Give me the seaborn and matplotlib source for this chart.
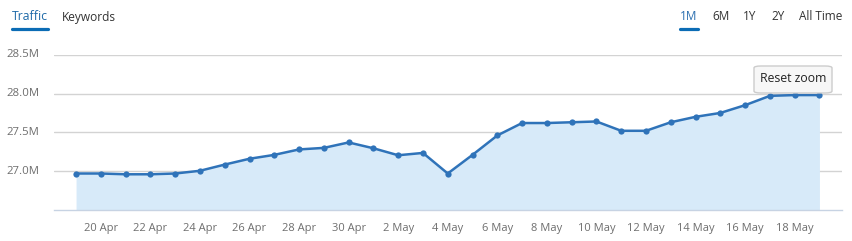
import matplotlib
matplotlib.use("Agg")
import matplotlib.pyplot as plt
import seaborn as sns
import pandas as pd
from matplotlib.patches import FancyBboxPatch

dates = ["19 Apr", "20 Apr", "21 Apr", "22 Apr", "23 Apr", "24 Apr", "25 Apr", "26 Apr",
         "27 Apr", "28 Apr", "29 Apr", "30 Apr", "1 May", "2 May", "3 May", "4 May",
         "5 May", "6 May", "7 May", "8 May", "9 May", "10 May", "11 May", "12 May",
         "13 May", "14 May", "15 May", "16 May", "17 May", "18 May", "19 May"]
traffic_m = [26.97, 26.97, 26.96, 26.96, 26.97, 27.005, 27.085, 27.16,
             27.21, 27.28, 27.30, 27.37, 27.295, 27.205, 27.235, 26.97,
             27.21, 27.46, 27.62, 27.62, 27.63, 27.64, 27.52, 27.52,
             27.63, 27.70, 27.75, 27.85, 27.97, 27.98, 27.98]
y_ticks = [27.0, 27.5, 28.0, 28.5]
y_tick_labels = ["27.0M", "27.5M", "28.0M", "28.5M"]
tabs_left = ["Traffic", "Keywords"]
tabs_right = ["1M", "6M", "1Y", "2Y", "All Time"]

df = pd.DataFrame({"idx": range(len(dates)), "date": dates, "traffic": traffic_m})

sns.set_theme(style="white")
plt.rcParams["font.family"] = ["Open Sans", "DejaVu Sans"]

W, H = 853, 241
fig = plt.figure(figsize=(W / 100, H / 100), dpi=100)
ax = fig.add_axes([54 / W, 1 - 210 / H, (842 - 54) / W, (210 - 54.7) / H])

ymin, ymax = 26.5, 28.5
ax.fill_between(df["idx"], df["traffic"], ymin, color="#d7eaf9", linewidth=0, zorder=1)
sns.lineplot(data=df, x="idx", y="traffic", ax=ax, color="#2f73b9", linewidth=1.8,
             marker="o", markersize=4.5, markeredgewidth=0, zorder=3)

ax.set_ylim(ymin, ymax)
ax.set_xlim(-0.89, 30.91)
ax.set_yticks(y_ticks)
ax.set_yticklabels([])
ax.grid(axis="y", color="#d3d3d3", linewidth=1)
ax.set_axisbelow(True)
xt = list(range(1, len(dates), 2))
ax.set_xticks(xt)
ax.set_xticklabels([dates[i] for i in xt], color="#6e6e6e", fontsize=8)
ax.tick_params(axis="x", length=0, pad=9)
ax.tick_params(axis="y", length=0)
ax.set_xlabel("")
ax.set_ylabel("")
for s in ["top", "right", "left"]:
    ax.spines[s].set_visible(False)
ax.spines["bottom"].set_color("#c7d3e3")
ax.spines["bottom"].set_linewidth(1)

# y labels placed at left edge of figure
for v, lab in zip(y_ticks, y_tick_labels):
    ax.annotate(lab, xy=(6 / W, v), xycoords=("figure fraction", "data"),
                ha="left", va="center", fontsize=8.2, color="#6e6e6e")

# tabs
fig.text(12 / W, 1 - 17 / H, tabs_left[0], ha="left", va="center", fontsize=8.8, color="#1f6aa8")
fig.text(62 / W, 1 - 17 / H, tabs_left[1], ha="left", va="center", fontsize=8.6, color="#333333")
fig.add_artist(plt.Line2D([12 / W, 48 / W], [1 - 29 / H, 1 - 29 / H], color="#0b6cb5", linewidth=2.3))

rx = [680, 712, 743, 771, 799]
for x, lab in zip(rx, tabs_right):
    fig.text(x / W, 1 - 17 / H, lab, ha="left", va="center", fontsize=8.5,
             color="#2b6fb0" if lab == "1M" else "#333333")
fig.add_artist(plt.Line2D([680 / W, 698 / W], [1 - 29 / H, 1 - 29 / H], color="#0b6cb5", linewidth=2.3))

# Reset zoom button
btn = FancyBboxPatch((754 / W, 1 - 93 / H), 78 / W, 27 / H,
                     boxstyle="round,pad=0,rounding_size=0.008", transform=fig.transFigure,
                     facecolor="#f7f7f7", edgecolor="#cccccc", linewidth=1, zorder=5)
fig.add_artist(btn)
fig.text(793 / W, 1 - 79 / H, "Reset zoom", ha="center", va="center", fontsize=8.8,
         color="#222222", zorder=6)

fig.savefig("out.png", dpi=100)
